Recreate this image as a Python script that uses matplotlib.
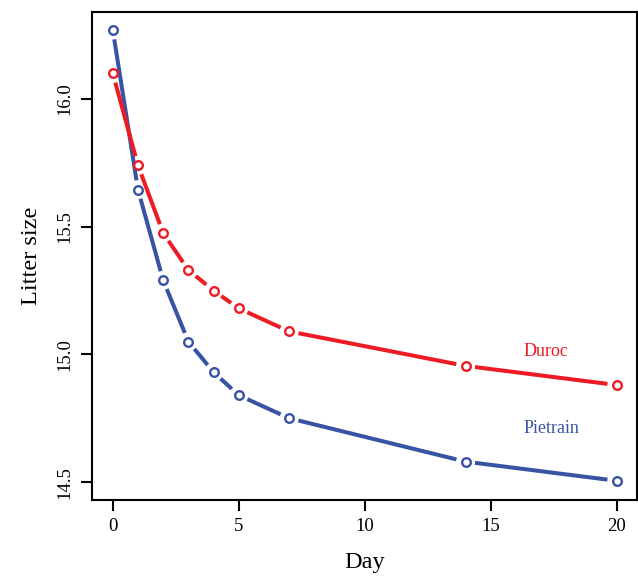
#!/usr/bin/env python3
"""Litter size by day for Duroc and Pietrain, R base-graphics look (type='b')."""
import numpy as np
import matplotlib.pyplot as plt

plt.rcParams["font.family"] = ["Liberation Serif", "DejaVu Serif"]

days = [0, 1, 2, 3, 4, 5, 7, 14, 20]
duroc = [16.10, 15.74, 15.475, 15.33, 15.25, 15.18, 15.09, 14.955, 14.88]
pietrain = [16.27, 15.645, 15.29, 15.05, 14.93, 14.84, 14.75, 14.58, 14.505]

RED = "#ED1C24"
BLUE = "#3953A4"

FIG_W, FIG_H = 6.38, 5.78
AX_POS = [0.144, 0.135, 0.854, 0.844]
XLIM = (-0.83, 20.79)
YLIM = (14.43, 16.34)
GAP_PT = 6.8  # gap around each point, in points


def gapped_line(ax, x, y, color):
    # segments shortened at both ends like R's type="b"; work in points so
    # the result does not depend on the render dpi
    sx = AX_POS[2] * FIG_W * 72 / (XLIM[1] - XLIM[0])
    sy = AX_POS[3] * FIG_H * 72 / (YLIM[1] - YLIM[0])
    px = np.asarray(x, float) * sx
    py = np.asarray(y, float) * sy
    for i in range(len(px) - 1):
        dx, dy = px[i + 1] - px[i], py[i + 1] - py[i]
        L = np.hypot(dx, dy)
        if L <= 2 * GAP_PT:
            continue
        ux, uy = dx / L, dy / L
        ax.plot([(px[i] + ux * GAP_PT) / sx, (px[i + 1] - ux * GAP_PT) / sx],
                [(py[i] + uy * GAP_PT) / sy, (py[i + 1] - uy * GAP_PT) / sy],
                color=color, lw=2.9, solid_capstyle="butt")
    ax.plot(x, y, ls="none", marker="o", ms=6.2, mfc="white", mec=color,
            mew=1.7, zorder=3)


fig = plt.figure(figsize=(FIG_W, FIG_H), dpi=100)
ax = fig.add_axes(AX_POS)
ax.set_xlim(*XLIM)
ax.set_ylim(*YLIM)

gapped_line(ax, days, pietrain, BLUE)
gapped_line(ax, days, duroc, RED)

ax.text(16.3, 15.01, "Duroc", color=RED, fontsize=13, ha="left", va="center")
ax.text(16.3, 14.71, "Pietrain", color=BLUE, fontsize=13, ha="left", va="center")

ax.set_xticks([0, 5, 10, 15, 20])
ax.set_yticks([14.5, 15.0, 15.5, 16.0])
ax.set_yticklabels(["14.5", "15.0", "15.5", "16.0"], rotation=90, va="center")
ax.tick_params(direction="out", length=8, width=1.5, labelsize=13.5)
ax.tick_params(axis="x", pad=5)
ax.tick_params(axis="y", pad=5)
for s in ax.spines.values():
    s.set_linewidth(1.5)

ax.set_xlabel("Day", fontsize=17.5, labelpad=12)
ax.set_ylabel("Litter size", fontsize=17.5, labelpad=11)

fig.savefig("out.png", dpi=100)
